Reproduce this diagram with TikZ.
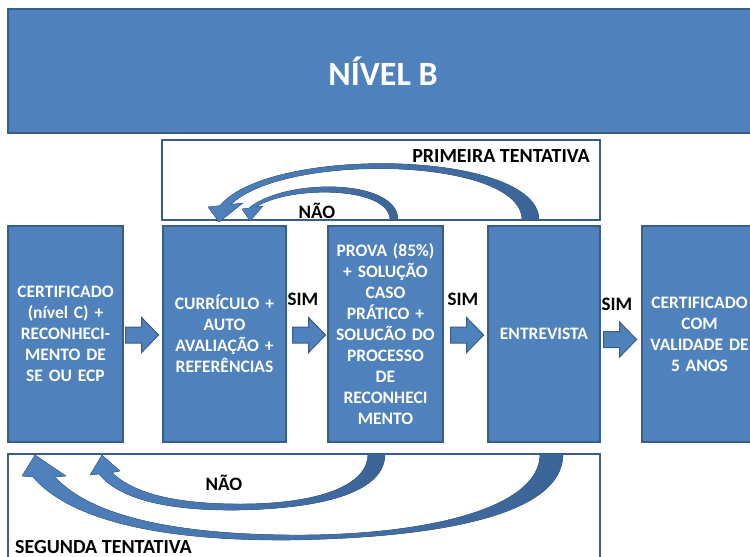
\documentclass[tikz,border=0pt]{standalone}
\usepackage{fontspec}
\setmainfont{Carlito}
\usetikzlibrary{calc}
\definecolor{boxblue}{HTML}{4F81BD}
\definecolor{boxedge}{HTML}{385D8A}
\definecolor{arrdark}{HTML}{3B6496}
\tikzset{
  box/.style={draw=boxedge, line width=1.2pt, fill=boxblue, text=white,
    font=\bfseries\fontsize{17.5}{21}\selectfont, align=center, inner sep=0pt,
    minimum height=216pt},
  lbl/.style={font=\bfseries\fontsize{19}{22}\selectfont, text=black, inner sep=0pt},
  biglbl/.style={font=\bfseries\fontsize{20}{24}\selectfont, text=black, inner sep=0pt},
  frame/.style={draw=boxedge, line width=1.2pt, fill=white},
  curved/.style={left color=boxblue, right color=arrdark, draw=arrdark, line width=0.4pt},
  blkarrow/.pic={\filldraw[fill=boxblue, draw=boxedge, line width=1pt]
    (0,-8) -- (16,-8) -- (16,-17.5) -- (33,0) -- (16,17.5) -- (16,8) -- (0,8) -- cycle;}
}
\begin{document}
\begin{tikzpicture}[x=1pt,y=-1pt]
\useasboundingbox (0,0) rectangle (750,557);
\clip (0,0) rectangle (750,557);
% banner
\node[draw=boxedge, line width=1.2pt, fill=boxblue, minimum width=749pt, minimum height=124pt, inner sep=0pt] (banner) at (382.5,71) {};
\node[font=\bfseries\fontsize{34}{40}\selectfont, text=white, anchor=base, inner sep=0pt] (bannertext) at (383,85) {NÍVEL B};
% attempt frames
\node[frame, minimum width=438pt, minimum height=80pt, inner sep=0pt] (first) at (381,180) {};
\node[frame, minimum width=592pt, minimum height=120pt, inner sep=0pt] (second) at (304,514) {};
% boxes
\node[box, minimum width=115pt, text width=111pt] (b1) at (65.5,334)
  {CERTIFICADO\\(nível C) +\\RECONHECI-\\MENTO DE\\SE OU ECP};
\node[box, minimum width=123pt, text width=119pt] (b2) at (224.5,334)
  {CURRÍCULO +\\AUTO\\AVALIAÇÃO +\\REFERÊNCIAS};
\node[box, minimum width=115pt, text width=111pt] (b3) at (385.5,334)
  {PROVA (85\%)\\+ SOLUÇÃO\\CASO\\PRÁTICO +\\SOLUCÃO DO\\PROCESSO\\DE\\RECONHECI\\MENTO};
\node[box, minimum width=112pt, text width=108pt] (b4) at (544,334) {ENTREVISTA};
\node[box, minimum width=115pt, text width=111pt] (b5) at (699.5,334)
  {CERTIFICADO\\COM\\VALIDADE DE\\5 ANOS};
% block arrows
\pic at ($(b1.east)+(2,1)$) {blkarrow};
\pic at ($(b2.east)+(6,1)$) {blkarrow};
\pic at ($(b3.east)+(7,1)$) {blkarrow};
\pic at ($(b4.east)+(3,5.5)$) {blkarrow};
% curved return arrows, first attempt
\filldraw[curved] (539,220) .. controls (539,150) and (270,145) .. (220,205.6)
  -- (208,207) -- (219,222) -- (243,203) -- (231,204.4)
  .. controls (285,152) and (522,157) .. (522,220) -- cycle;
\filldraw[curved] (398,220) .. controls (398,178) and (285,178) .. (249,208)
  -- (242,209) -- (250,221) -- (263,206) -- (256,207)
  .. controls (290,185) and (390,186) .. (390,220) -- cycle;
% curved return arrows, second attempt
\filldraw[curved] (563,454) .. controls (563,520) and (420,538) .. (290,540)
  .. controls (160,541) and (70,520) .. (33,477)
  -- (22,476) -- (35,455) -- (66,476) -- (55,477)
  .. controls (90,515) and (170,534) .. (290,535)
  .. controls (420,536) and (540,510) .. (540,454) -- cycle;
\filldraw[curved] (385,454) .. controls (385,490) and (330,508) .. (240,510)
  .. controls (170,511) and (120,500) .. (99,474)
  -- (90,475) -- (102,455) -- (120,471) -- (112,472.5)
  .. controls (135,495) and (180,504) .. (240,504)
  .. controls (320,504) and (368,485) .. (368,454) -- cycle;
% labels
\node[lbl, anchor=base] (sim1) at (303,305) {SIM};
\node[lbl, anchor=base] (sim2) at (463,305) {SIM};
\node[lbl, anchor=base] (sim3) at (617,310) {SIM};
\node[lbl, anchor=base] (nao1) at (317,218) {NÃO};
\node[lbl, anchor=base] (nao2) at (224,490) {NÃO};
\node[biglbl, anchor=base east] (t1) at (590,162) {PRIMEIRA TENTATIVA};
\node[biglbl, anchor=base west] (t2) at (15,553) {SEGUNDA TENTATIVA};
\end{tikzpicture}
\end{document}
